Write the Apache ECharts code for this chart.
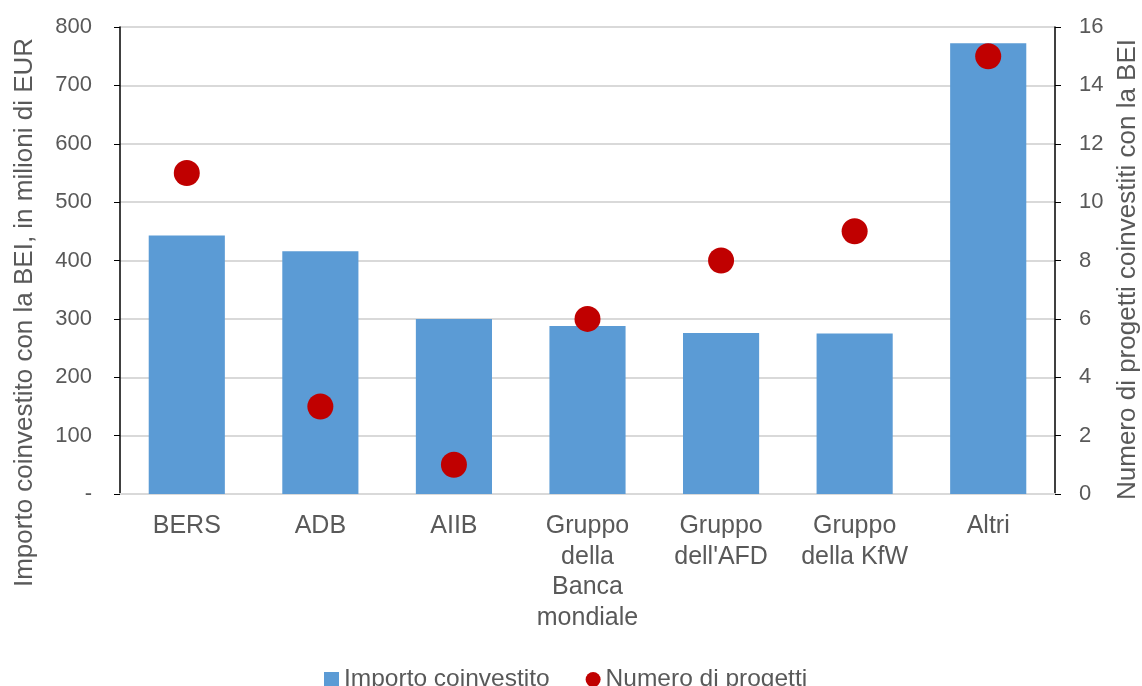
<!DOCTYPE html>
<html><head><meta charset="utf-8">
<script src="https://cdn.jsdelivr.net/npm/echarts@6/dist/echarts.min.js"></script>
<style>html,body{margin:0;padding:0;background:#fff}#c{width:1142px;height:686px}</style>
</head><body><div id="c"></div>
<script>
const categories = ['BERS', 'ADB', 'AIIB', 'Gruppo\ndella\nBanca\nmondiale', "Gruppo\ndell'AFD", 'Gruppo\ndella KfW', 'Altri'];
const importo = [443, 416, 300, 288, 276, 275, 772];
const progetti = [11, 3, 1, 6, 8, 9, 15];
const leftTicks = { min: 0, max: 800, interval: 100 };
const rightTicks = { min: 0, max: 16, interval: 2 };

const txt = '#595959';
const font = 'Liberation Sans, Arial, sans-serif';
const chart = echarts.init(document.getElementById('c'));
chart.setOption({
  animation: false,
  textStyle: { fontFamily: font },
  grid: { left: 120, right: 87, top: 27, bottom: 192, outerBoundsMode: 'none', containLabel: false },
  legend: {
    top: 662, left: 319, itemGap: 36, itemWidth: 15, itemHeight: 15,
    textStyle: { color: txt, fontSize: 24.5, fontFamily: font },
    data: [{ name: 'Importo coinvestito', icon: 'rect' }, { name: 'Numero di progetti', icon: 'circle' }]
  },
  xAxis: {
    type: 'category', data: categories,
    axisLine: { lineStyle: { color: '#d9d9d9', width: 2 } },
    axisTick: { show: false },
    axisLabel: { color: txt, fontSize: 25, fontFamily: font, lineHeight: 30.5, margin: 17, interval: 0 }
  },
  yAxis: [{
    type: 'value', min: leftTicks.min, max: leftTicks.max, interval: leftTicks.interval,
    name: 'Importo coinvestito con la BEI, in milioni di EUR', nameLocation: 'middle', nameGap: 82,
    nameTextStyle: { color: txt, fontSize: 26, fontFamily: font, padding: [0, 104, 0, 0] },
    axisLine: { show: true, lineStyle: { color: '#000', width: 1.5 } },
    axisTick: { show: true, length: 6, lineStyle: { color: '#000' } },
    axisLabel: { color: txt, fontSize: 22, fontFamily: font, margin: 28, formatter: v => v === 0 ? '-' : String(v) },
    splitLine: { lineStyle: { color: '#d9d9d9', width: 2 } }
  }, {
    type: 'value', min: rightTicks.min, max: rightTicks.max, interval: rightTicks.interval,
    name: 'Numero di progetti coinvestiti con la BEI', nameLocation: 'middle', nameGap: 58,
    nameRotate: 90,
    nameTextStyle: { color: txt, fontSize: 26, fontFamily: font, padding: [0, 18, 0, 0] },
    axisLine: { show: true, lineStyle: { color: '#000', width: 1.5 } },
    axisTick: { show: true, length: 6, lineStyle: { color: '#000' } },
    axisLabel: { color: txt, fontSize: 22, fontFamily: font, margin: 24 },
    splitLine: { show: false }
  }],
  series: [{
    name: 'Importo coinvestito', type: 'bar', data: importo, barWidth: '57%',
    itemStyle: { color: '#5B9BD5' }
  }, {
    name: 'Numero di progetti', type: 'scatter', yAxisIndex: 1, data: progetti, symbolSize: 26,
    itemStyle: { color: '#C00000', opacity: 1 }
  }]
});
</script></body></html>
